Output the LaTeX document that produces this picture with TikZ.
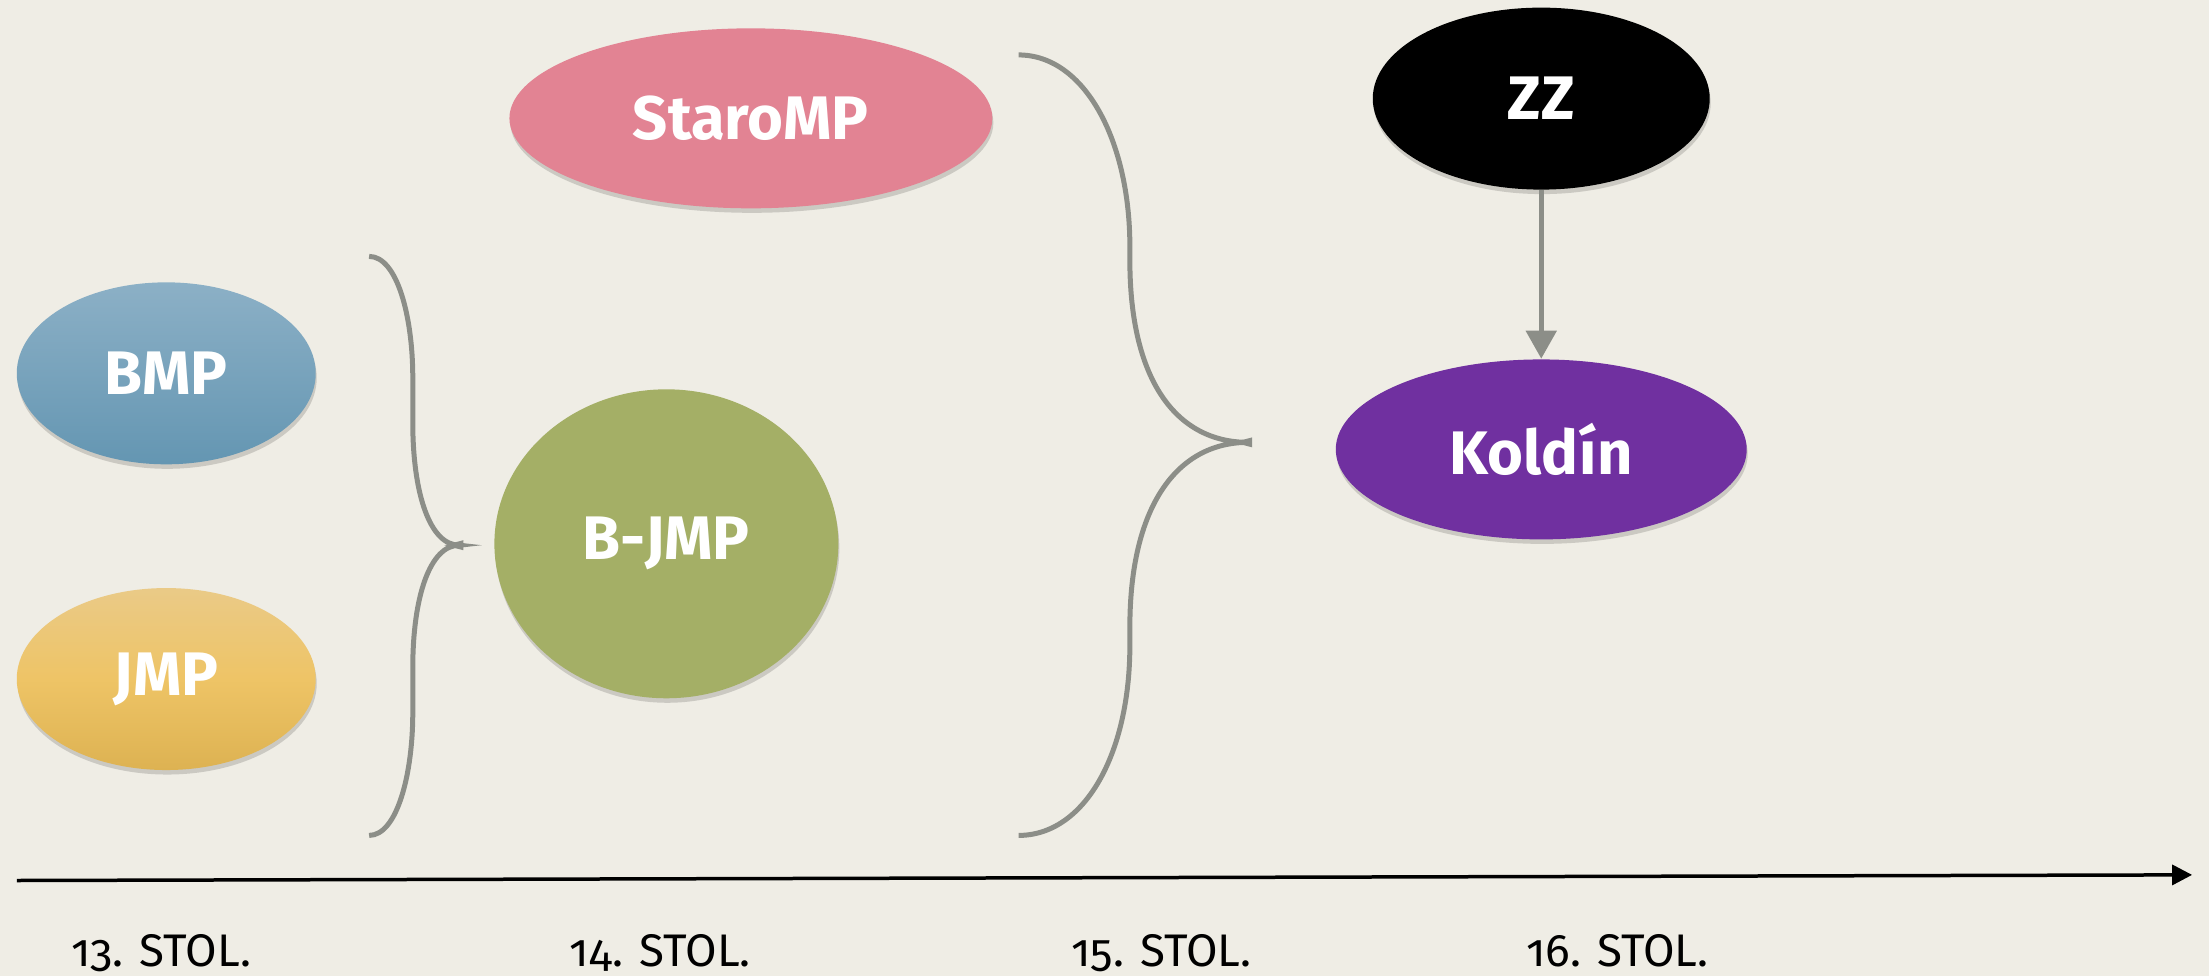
\documentclass[tikz,border=0pt]{standalone}
\usepackage{fontspec}
\setmainfont{Fira Sans}
\newfontfamily\labfont{Fira Sans}[Numbers=OldStyle]
\usetikzlibrary{shapes.geometric,arrows.meta,shadows}
\definecolor{bg}{RGB}{239,237,229}
\definecolor{linegray}{RGB}{140,142,136}
\definecolor{bmptop}{RGB}{140,176,198}
\definecolor{bmpbot}{RGB}{100,150,178}
\definecolor{jmptop}{RGB}{234,202,135}
\definecolor{jmpmid}{RGB}{238,196,102}
\definecolor{jmpbot}{RGB}{221,178,82}
\definecolor{bjmp}{RGB}{164,175,102}
\definecolor{staro}{RGB}{226,131,147}
\definecolor{koldin}{RGB}{112,48,160}
\begin{document}
\begin{tikzpicture}[x=0.1409mm,y=-0.1409mm,
  ell/.style={ellipse, inner sep=0pt, text=white,
    font=\fontsize{17.5}{20}\selectfont\bfseries,
    drop shadow={shadow xshift=0.1mm, shadow yshift=-0.45mm, opacity=0.15, fill=black}},
  brace/.style={draw=linegray, line width=0.5mm},
  gline/.style={draw=linegray, line width=0.5mm},
  axis/.style={draw=black, line width=0.35mm},
  lab/.style={anchor=base west, inner sep=0pt, font=\labfont\fontsize{13}{15}\selectfont}]
\fill[bg] (0,0) rectangle (1568,693);
\useasboundingbox (0,0) rectangle (1568,693);
% nodes
\node[ell, minimum width=29.9mm, minimum height=18.2mm, top color=bmptop, bottom color=bmpbot] (bmp) at (118,265) {BMP};
\node[ell, minimum width=29.9mm, minimum height=18.2mm, top color=jmptop, bottom color=jmpbot, middle color=jmpmid] (jmp) at (118,482) {JMP};
\node[ell, minimum width=34.4mm, minimum height=30.9mm, fill=bjmp] (bjmp) at (473,386) {B-JMP};
\node[ell, minimum width=48.3mm, minimum height=18.0mm, fill=staro] (staro) at (533,84) {StaroMP};
\node[ell, minimum width=33.7mm, minimum height=18.2mm, fill=black] (zz) at (1094,70) {ZZ};
\node[ell, minimum width=41.1mm, minimum height=18.0mm, fill=koldin] (kol) at (1094,319) {Kold\'{\i}n};
% arrow ZZ -> Koldin
\draw[gline, -{Triangle[length=2.8mm,width=3mm]}] (zz.south) -- (kol.north);
% left brace
\coordinate (lt) at (262,182);
\coordinate (lp) at (326,387);
\coordinate (lb) at (262,593);
\draw[brace] (lt) .. controls (282,182) and (293,225) .. (293,268) -- (293,300)
  .. controls (293,350) and (305,387) .. (lp)
  .. controls (305,387) and (293,424) .. (293,474) -- (293,506)
  .. controls (293,549) and (282,593) .. (lb);
\fill[linegray] ([xshift=-1.5mm]lp) -- ([shift={(0.4mm,0.5mm)}]lp) -- ([shift={(0.4mm,-0.5mm)}]lp) -- cycle;
% right brace
\coordinate (rt) at (723,39);
\coordinate (rp) at (886,314);
\coordinate (rb) at (723,593);
\draw[brace] (rt) .. controls (770,39) and (802,100) .. (802,175) -- (802,185)
  .. controls (802,270) and (835,314) .. (rp)
  .. controls (835,314) and (802,360) .. (802,445) -- (802,458)
  .. controls (802,535) and (770,593) .. (rb);
\fill[linegray] ([xshift=-1.5mm]rp) -- ([shift={(0.4mm,0.5mm)}]rp) -- ([shift={(0.4mm,-0.5mm)}]rp) -- cycle;
% time axis
\coordinate (a0) at (12,625);
\coordinate (a1) at (1556,621);
\draw[axis, -{Triangle[length=2mm,width=2mm]}] (a0) -- (a1);
% labels
\node[lab] (l13) at (50,686) {13. STOL.};
\node[lab] (l14) at (404,686) {14. STOL.};
\node[lab] (l15) at (760,686) {15. STOL.};
\node[lab] (l16) at (1083,686) {16. STOL.};
\end{tikzpicture}
\end{document}
